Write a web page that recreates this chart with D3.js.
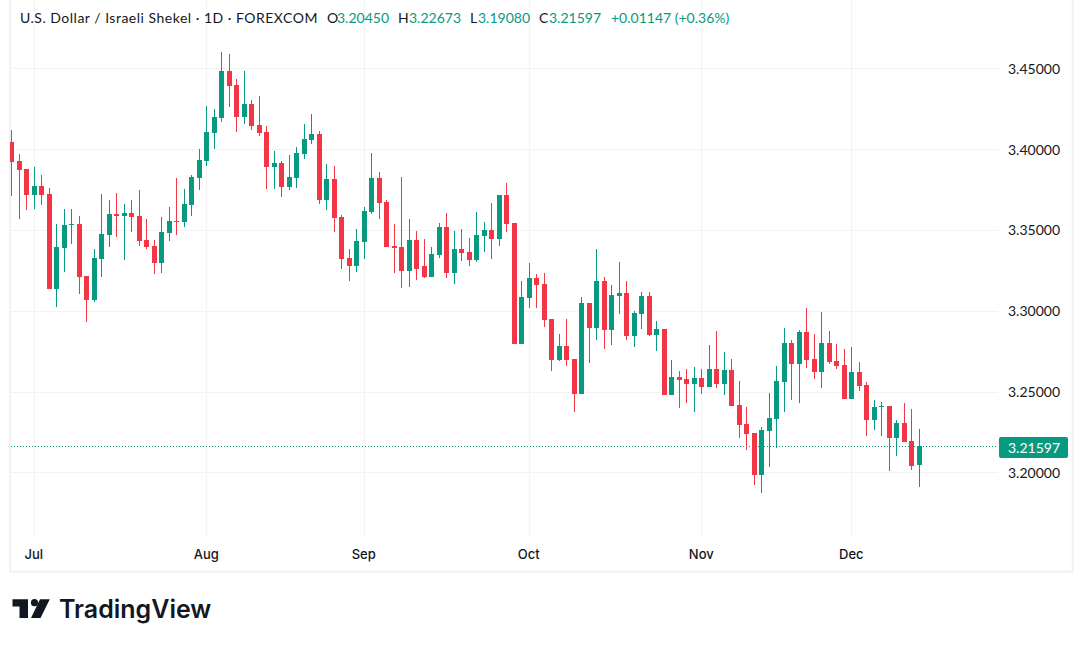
<!DOCTYPE html>
<html>
<head>
<meta charset="utf-8">
<script src="https://cdn.jsdelivr.net/npm/d3@7"></script>
<style>
html, body { margin: 0; padding: 0; background: #fff; }
svg { display: block; }
</style>
</head>
<body>
<svg id="chart" width="1086" height="647"></svg>
<script>
var opens = [3.4044,3.3926,3.3877,3.3716,3.3772,3.3722,3.3134,3.3388,3.3530,3.3536,3.3215,3.3066,3.3320,3.3468,3.3598,3.3586,3.3604,3.3586,3.3437,3.3400,
    3.3295,3.3480,3.3555,3.3549,3.3654,3.3821,3.3926,3.4099,3.4192,3.4483,3.4397,3.4199,3.4279,3.4149,3.4106,3.3889,3.3914,3.3765,3.3821,3.3969,
    3.4056,3.4093,3.3685,3.3815,3.3580,3.3326,3.3277,3.3425,3.3611,3.3821,3.3673,3.3400,3.3394,3.3246,3.3437,3.3277,3.3209,3.3345,3.3518,3.3233,
    3.3382,3.3363,3.3314,3.3462,3.3499,3.3443,3.3716,3.3542,3.2794,3.3079,3.3202,3.3165,3.2949,3.2695,3.2782,3.2701,3.2485,3.3047,3.2893,3.3184,
    3.2881,3.3091,3.3110,3.2844,3.2980,3.3091,3.2850,3.2887,3.2478,3.2590,3.2577,3.2546,3.2583,3.2528,3.2639,3.2546,3.2633,3.2416,3.2299,3.2243,
    3.1983,3.2256,3.2330,3.2559,3.2800,3.2670,3.2868,3.2701,3.2621,3.2800,3.2689,3.2664,3.2453,3.2621,3.2540,3.2324,3.2404,3.2410,3.2212,3.2305,
    3.2194,3.2045];
var highs = [3.4118,3.3969,3.3877,3.3889,3.3840,3.3759,3.3536,3.3629,3.3629,3.3586,3.3215,3.3382,3.3722,3.3685,3.3728,3.3660,3.3685,3.3747,3.3567,3.3437,
    3.3580,3.3641,3.3821,3.3753,3.3840,3.4000,3.4267,3.4248,3.4601,3.4589,3.4434,3.4483,3.4304,3.4329,3.4143,3.3988,3.3926,3.3963,3.4013,3.4155,
    3.4217,3.4112,3.3907,3.3895,3.3592,3.3382,3.3505,3.3641,3.3975,3.3858,3.3685,3.3536,3.3827,3.3567,3.3493,3.3443,3.3394,3.3542,3.3604,3.3493,
    3.3505,3.3450,3.3611,3.3549,3.3666,3.3716,3.3790,3.3542,3.3184,3.3295,3.3227,3.3233,3.2949,3.2856,3.2949,3.2701,3.3085,3.3047,3.3382,3.3209,
    3.3159,3.3302,3.3184,3.2998,3.3116,3.3116,3.2937,3.2887,3.2695,3.2627,3.2639,3.2652,3.2639,3.2788,3.2875,3.2744,3.2701,3.2565,3.2404,3.2243,
    3.2280,3.2490,3.2658,3.2893,3.2819,3.2881,3.3017,3.2856,3.2992,3.2875,3.2794,3.2763,3.2776,3.2683,3.2559,3.2447,3.2435,3.2410,3.2324,3.2428,
    3.2392,3.22673];
var lows = [3.3710,3.3567,3.3623,3.3629,3.3654,3.3134,3.3023,3.3240,3.3412,3.3103,3.2931,3.3054,3.3209,3.3394,3.3456,3.3314,3.3487,3.3400,3.3382,3.3227,
    3.3233,3.3431,3.3468,3.3518,3.3586,3.3747,3.3895,3.4000,3.4168,3.4261,3.4106,3.4155,3.4118,3.4081,3.3753,3.3753,3.3704,3.3747,3.3759,3.3938,
    3.4031,3.3660,3.3623,3.3487,3.3258,3.3184,3.3240,3.3320,3.3598,3.3567,3.3394,3.3233,3.3141,3.3147,3.3190,3.3202,3.3209,3.3326,3.3202,3.3165,
    3.3308,3.3277,3.3302,3.3363,3.3320,3.3400,3.3487,3.2794,3.2794,3.3017,3.3017,3.2900,3.2627,3.2689,3.2658,3.2374,3.2485,3.2676,3.2819,3.2763,
    3.2788,3.2980,3.2819,3.2776,3.2887,3.2844,3.2751,3.2478,3.2478,3.2398,3.2428,3.2374,3.2485,3.2528,3.2521,3.2478,3.2410,3.2212,3.2138,3.1921,
    3.1871,3.2033,3.2150,3.2374,3.2447,3.2428,3.2645,3.2577,3.2521,3.2670,3.2639,3.2453,3.2453,3.2503,3.2225,3.2262,3.2225,3.2008,3.2101,3.2188,
    3.2014,3.1908];
var closes = [3.3920,3.3871,3.3716,3.3772,3.3716,3.3134,3.3394,3.3530,3.3536,3.3209,3.3066,3.3326,3.3474,3.3598,3.3586,3.3604,3.3580,3.3431,3.3394,3.3295,
    3.3487,3.3555,3.3549,3.3660,3.3827,3.3932,3.4106,3.4199,3.4483,3.4391,3.4199,3.4279,3.4143,3.4099,3.3889,3.3914,3.3765,3.3827,3.3975,3.4062,
    3.4093,3.3685,3.3815,3.3574,3.3320,3.3277,3.3431,3.3617,3.3821,3.3666,3.3394,3.3388,3.3246,3.3437,3.3258,3.3209,3.3351,3.3518,3.3233,3.3382,
    3.3357,3.3314,3.3468,3.3499,3.3443,3.3716,3.3536,3.2794,3.3085,3.3202,3.3159,3.2943,3.2695,3.2782,3.2695,3.2485,3.3047,3.2893,3.3184,3.2881,
    3.3097,3.3110,3.2844,3.2986,3.3091,3.2850,3.2887,3.2478,3.2590,3.2571,3.2546,3.2583,3.2528,3.2639,3.2546,3.2633,3.2410,3.2293,3.2237,3.1983,
    3.2262,3.2336,3.2565,3.2800,3.2670,3.2868,3.2695,3.2621,3.2800,3.2683,3.2658,3.2453,3.2621,3.2534,3.2324,3.2404,3.2410,3.2212,3.2305,3.2188,
    3.2039,3.21597];

var month_labels = ["Jul", "Aug", "Sep", "Oct", "Nov", "Dec"],
    month_bars = [3, 26, 47, 69, 92, 112],
    price_ticks = [3.20, 3.25, 3.30, 3.35, 3.40, 3.45];

var header_title = "U.S. Dollar / Israeli Shekel · 1D · FOREXCOM",
    header_keys = ["O", "H", "L", "C"],
    header_values = ["3.20450", "3.22673", "3.19080", "3.21597"],
    header_change = "+0.01147 (+0.36%)",
    last_price = closes[closes.length - 1];

var up_color = "#089981",
    down_color = "#f23645",
    grid_color = "#f3f3f4",
    border_color = "#f1f2f4",
    text_color = "#131722",
    panel_font = "Lato, sans-serif",
    logo_font = "Inter, sans-serif";

var plot_left = 11,
    plot_right = 998,
    plot_bottom = 537;

var x = d3.scaleLinear().domain([0, 121]).range([11.7, 919.3]),
    y = d3.scaleLinear().domain([3.20, 3.45]).range([472.3, 68.3]);

function snap_x(i) { return Math.floor(x(i)) + 0.5; }
function snap_y(v) { return Math.round(y(v)); }

var svg = d3.select("#chart");

svg.append("defs").append("clipPath").attr("id", "plot_clip")
    .append("rect")
    .attr("x", plot_left - 1).attr("y", 0)
    .attr("width", plot_right - plot_left + 1).attr("height", plot_bottom);

// frame
svg.append("rect")
    .attr("x", 10).attr("y", -10)
    .attr("width", 1062.7).attr("height", 581.7)
    .attr("fill", "#fff")
    .attr("stroke", border_color)
    .attr("stroke-width", 2);

// grid
svg.append("g").selectAll("line").data(month_bars).join("line")
    .attr("x1", snap_x).attr("x2", snap_x)
    .attr("y1", 0).attr("y2", plot_bottom)
    .attr("stroke", grid_color);

svg.append("g").selectAll("line").data(price_ticks).join("line")
    .attr("x1", plot_left).attr("x2", plot_right)
    .attr("y1", function(d) { return snap_y(d) + 0.5; })
    .attr("y2", function(d) { return snap_y(d) + 0.5; })
    .attr("stroke", grid_color);

// last price line, under the candles
svg.append("line")
    .attr("x1", plot_left).attr("x2", plot_right)
    .attr("y1", snap_y(last_price) + 0.5).attr("y2", snap_y(last_price) + 0.5)
    .attr("stroke", up_color)
    .attr("stroke-dasharray", "1 2")
    .attr("shape-rendering", "crispEdges");

// candles
var candle = svg.append("g")
    .attr("clip-path", "url(#plot_clip)")
    .attr("shape-rendering", "crispEdges")
    .selectAll("g").data(d3.range(opens.length)).join("g")
    .attr("fill", function(i) { return closes[i] >= opens[i] ? up_color : down_color; });

candle.append("rect")
    .attr("x", function(i) { return snap_x(i) - 0.5; })
    .attr("width", 1)
    .attr("y", function(i) { return snap_y(highs[i]); })
    .attr("height", function(i) { return Math.max(1, snap_y(lows[i]) - snap_y(highs[i])); });

candle.append("rect")
    .attr("x", function(i) { return snap_x(i) - 2.5; })
    .attr("width", 5)
    .attr("y", function(i) { return snap_y(Math.max(opens[i], closes[i])); })
    .attr("height", function(i) { return Math.max(1, Math.abs(snap_y(opens[i]) - snap_y(closes[i]))); });

// price axis
var price_axis = d3.axisRight(y)
    .tickValues(price_ticks)
    .tickSize(0)
    .tickPadding(0)
    .tickFormat(d3.format(".5f"));

svg.append("g")
    .attr("transform", "translate(1008,0.5)")
    .call(price_axis)
    .call(function(g) { g.select(".domain").remove(); })
    .selectAll("text")
    .attr("font-family", panel_font)
    .attr("font-size", 14)
    .attr("fill", text_color);

// time axis
var time_axis = d3.axisBottom(x)
    .tickValues(month_bars)
    .tickSize(0)
    .tickPadding(0)
    .tickFormat(function(d, i) { return month_labels[i]; });

svg.append("g")
    .attr("transform", "translate(-1,550)")
    .call(time_axis)
    .call(function(g) { g.select(".domain").remove(); })
    .selectAll("text")
    .attr("font-family", logo_font)
    .attr("font-size", 13)
    .attr("font-weight", 500)
    .attr("fill", text_color);

// last price tag
svg.append("rect")
    .attr("x", 999).attr("y", 437)
    .attr("width", 69).attr("height", 21)
    .attr("rx", 2)
    .attr("fill", up_color);

svg.append("text")
    .attr("x", 1008).attr("y", 452.5)
    .attr("font-family", panel_font)
    .attr("font-size", 14)
    .attr("fill", "#fff")
    .text(d3.format(".5f")(last_price));

// header
var header = svg.append("g")
    .attr("font-family", panel_font)
    .attr("font-size", 14);

header.append("text")
    .attr("x", 20).attr("y", 23)
    .attr("fill", text_color)
    .attr("letter-spacing", 0.5)
    .text(header_title);

var key_x = [327, 398, 470, 539],
    value_x = [337, 409, 478, 549];

header.selectAll(".key").data(header_keys).join("text")
    .attr("class", "key")
    .attr("x", function(d, i) { return key_x[i]; })
    .attr("y", 23)
    .attr("fill", text_color)
    .text(function(d) { return d; });

header.selectAll(".value").data(header_values).join("text")
    .attr("class", "value")
    .attr("x", function(d, i) { return value_x[i]; })
    .attr("y", 23)
    .attr("fill", up_color)
    .text(function(d) { return d; });

header.append("text")
    .attr("x", 611).attr("y", 23)
    .attr("fill", up_color)
    .text(header_change);

// logo
var logo = svg.append("g").attr("fill", "#131722");

logo.append("path").attr("d", "M12.5 599.3H28V618H19.5V606.5H12.5Z");
logo.append("circle").attr("cx", 34.5).attr("cy", 602.7).attr("r", 3.6);
logo.append("path").attr("d", "M40 599.3H49.8L40.5 618H31Z");

logo.append("text")
    .attr("x", 59).attr("y", 618)
    .attr("font-family", logo_font)
    .attr("font-size", 25)
    .attr("font-weight", 600)
    .text("TradingView");
</script>
</body>
</html>
